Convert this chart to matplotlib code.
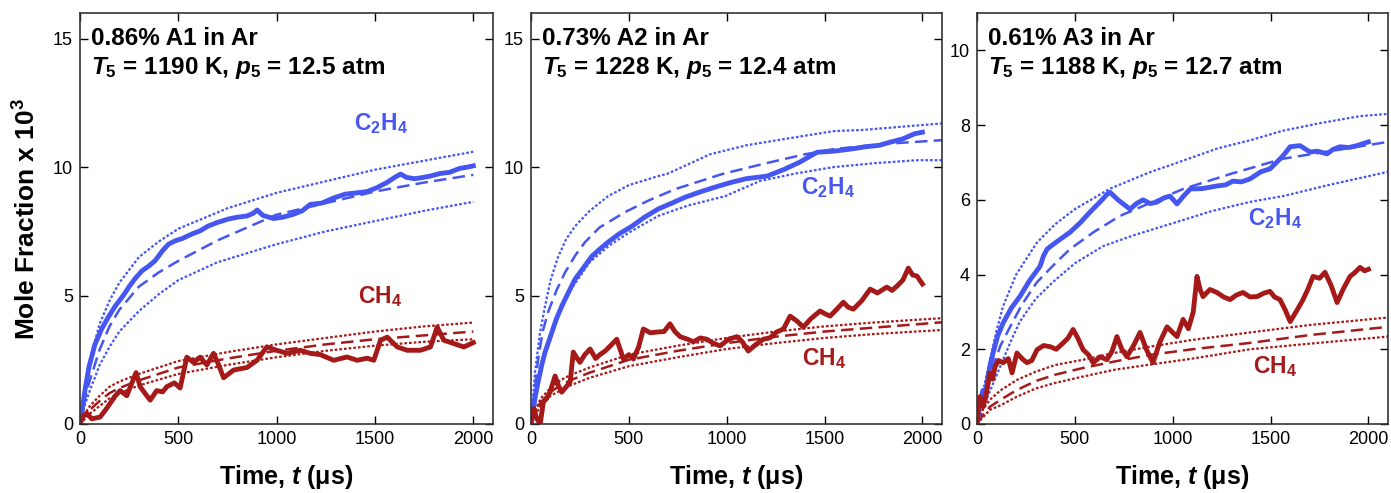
import matplotlib
matplotlib.use("Agg")
import matplotlib.pyplot as plt

plt.rcParams['font.family'] = ['Liberation Sans', 'DejaVu Sans']
plt.rcParams['mathtext.fontset'] = 'custom'
plt.rcParams['mathtext.rm'] = 'Liberation Sans:bold'
plt.rcParams['mathtext.it'] = 'Liberation Sans:italic:bold'
plt.rcParams['mathtext.bf'] = 'Liberation Sans:bold'

BLUE = '#4656f0'
RED = '#a51919'

# ---------------- panel 1: 0.86% A1 ----------------
p1_c2h4_t = [0, 10, 25, 45, 76, 110, 143, 180, 220, 250, 280, 316, 350, 382, 420, 450, 484, 520,
             570, 611, 650, 700, 755, 800, 850, 880, 901, 930, 983, 1030, 1080, 1130, 1171, 1230,
             1290, 1350, 1410, 1460, 1510, 1560, 1600, 1630, 1660, 1700, 1731, 1780, 1830, 1880,
             1930, 1970, 2000]
p1_c2h4_v = [0.0, 0.5, 1.3, 2.2, 3.1, 3.7, 4.15, 4.6, 5.0, 5.35, 5.66, 5.97, 6.15, 6.36, 6.75, 7.0,
             7.13, 7.22, 7.4, 7.52, 7.7, 7.85, 7.98, 8.05, 8.1, 8.2, 8.33, 8.12, 8.0, 8.05, 8.15,
             8.3, 8.55, 8.6, 8.8, 8.95, 9.0, 9.05, 9.2, 9.4, 9.6, 9.73, 9.6, 9.55, 9.58, 9.65, 9.75,
             9.8, 9.95, 10.0, 10.05]
p1_c2h4_hi_t = [0, 25, 50, 100, 150, 200, 300, 400, 500, 750, 1000, 1250, 1500, 1750, 2000]
p1_c2h4_hi_v = [0.0, 1.5, 2.5, 3.9, 4.8, 5.5, 6.5, 7.1, 7.6, 8.4, 9.0, 9.45, 9.9, 10.25, 10.6]
p1_c2h4_md_t = [0, 25, 50, 100, 150, 200, 300, 400, 500, 700, 1000, 1250, 1500, 1750, 2000]
p1_c2h4_md_v = [0.0, 1.0, 1.7, 2.9, 3.8, 4.45, 5.35, 5.9, 6.35, 7.15, 8.15, 8.6, 9.05, 9.4, 9.7]
p1_c2h4_lo_t = [0, 25, 50, 100, 150, 200, 300, 400, 500, 700, 1000, 1250, 1500, 1750, 2000]
p1_c2h4_lo_v = [0.0, 0.75, 1.3, 2.3, 3.0, 3.6, 4.4, 5.05, 5.6, 6.3, 7.0, 7.5, 7.9, 8.3, 8.65]

p1_ch4_t = [0, 15, 34, 60, 102, 130, 153, 180, 204, 238, 272, 285, 306, 330, 357, 390, 420, 441,
            480, 509, 543, 577, 611, 645, 679, 705, 730, 781, 849, 900, 950, 1000, 1053, 1120,
            1171, 1222, 1290, 1358, 1409, 1460, 1494, 1528, 1562, 1613, 1664, 1731, 1782, 1816,
            1850, 1901, 1952, 2000]
p1_ch4_v = [0.0, 0.3, 0.42, 0.2, 0.27, 0.55, 0.8, 1.1, 1.3, 1.1, 1.75, 2.0, 1.45, 1.2, 0.93, 1.3,
            1.25, 1.45, 1.6, 1.4, 2.6, 2.4, 2.6, 2.3, 2.75, 2.3, 1.8, 2.1, 2.2, 2.48, 3.0, 2.87,
            2.75, 2.87, 2.75, 2.7, 2.48, 2.61, 2.48, 2.56, 2.48, 3.26, 3.38, 3.0, 2.87, 2.87, 3.0,
            3.77, 3.26, 3.13, 3.0, 3.17]
p1_ch4_hi_t = [0, 25, 50, 100, 150, 200, 300, 500, 750, 1000, 1250, 1500, 1750, 2000]
p1_ch4_hi_v = [0.0, 0.4, 0.7, 1.1, 1.45, 1.65, 1.95, 2.45, 2.8, 3.1, 3.35, 3.6, 3.8, 3.95]
p1_ch4_md_t = [0, 25, 50, 100, 150, 200, 300, 500, 750, 1000, 1250, 1500, 1750, 2000]
p1_ch4_md_v = [0.0, 0.3, 0.55, 0.9, 1.2, 1.4, 1.7, 2.2, 2.55, 2.85, 3.1, 3.3, 3.45, 3.6]
p1_ch4_lo_t = [0, 25, 50, 100, 150, 200, 300, 500, 750, 1000, 1250, 1500, 1750, 2000]
p1_ch4_lo_v = [0.0, 0.2, 0.4, 0.7, 1.0, 1.2, 1.5, 1.95, 2.3, 2.6, 2.85, 3.05, 3.2, 3.3]

# ---------------- panel 2: 0.73% A2 ----------------
p2_c2h4_t = [0, 5, 20, 36, 55, 72, 90, 107, 130, 158, 190, 225, 270, 312, 350, 394, 450, 516, 580,
             650, 720, 788, 870, 957, 1030, 1100, 1206, 1290, 1375, 1420, 1462, 1545, 1630, 1717,
             1780, 1835, 1900, 1960, 2000]
p2_c2h4_v = [0.0, 0.2, 1.0, 1.63, 2.3, 2.8, 3.2, 3.58, 4.1, 4.6, 5.1, 5.64, 6.1, 6.54, 6.8, 7.08,
             7.4, 7.7, 8.05, 8.37, 8.6, 8.83, 9.05, 9.26, 9.42, 9.55, 9.65, 9.9, 10.2, 10.4, 10.58,
             10.62, 10.7, 10.8, 10.85, 10.97, 11.1, 11.3, 11.36]
p2_c2h4_hi_t = [0, 20, 45, 72, 100, 138, 180, 225, 300, 394, 500, 650, 700, 915, 1100, 1300, 1545,
                1700, 1937, 2100]
p2_c2h4_hi_v = [0.0, 2.0, 3.5, 4.6, 5.6, 6.5, 7.2, 7.7, 8.3, 8.87, 9.3, 9.65, 9.75, 10.5, 10.85,
                11.1, 11.4, 11.45, 11.6, 11.7]
p2_c2h4_md_t = [0, 36, 60, 87, 130, 174, 225, 276, 350, 481, 600, 736, 976, 1200, 1400, 1545, 1800,
                2100]
p2_c2h4_md_v = [0.0, 2.5, 3.6, 4.35, 5.2, 5.9, 6.55, 7.08, 7.65, 8.25, 8.7, 9.14, 9.73, 10.15,
                10.5, 10.7, 10.9, 11.05]
p2_c2h4_lo_t = [0, 20, 50, 100, 150, 200, 300, 400, 500, 650, 800, 992, 1170, 1350, 1545, 1750,
                1975, 2100]
p2_c2h4_lo_v = [0.0, 1.0, 2.1, 3.4, 4.4, 5.2, 6.3, 6.95, 7.45, 8.1, 8.5, 8.87, 9.46, 9.75, 10.0,
                10.15, 10.27, 10.27]

p2_ch4_t = [0, 5, 15, 30, 47, 63, 80, 97, 123, 140, 157, 180, 200, 216, 232, 250, 275, 302, 330,
            352, 380, 404, 438, 472, 500, 523, 550, 574, 610, 643, 680, 710, 735, 762, 800, 830,
            865, 898, 930, 966, 1010, 1052, 1080, 1110, 1150, 1187, 1220, 1255, 1290, 1324, 1360,
            1391, 1430, 1477, 1500, 1528, 1560, 1596, 1620, 1647, 1690, 1733, 1770, 1818, 1845,
            1870, 1900, 1928, 1950, 1972, 2000]
p2_ch4_v = [0.0, 0.47, 0.6, 0.2, 0.0, 0.85, 1.0, 1.24, 1.87, 1.5, 1.24, 1.45, 1.63, 2.8, 2.6, 2.4,
            2.7, 2.92, 2.55, 2.7, 2.85, 3.03, 3.3, 2.53, 2.7, 2.53, 3.0, 3.7, 3.55, 3.58, 3.6, 3.9,
            3.6, 3.4, 3.3, 3.2, 3.35, 3.3, 3.15, 3.04, 3.3, 3.4, 3.2, 2.84, 3.1, 3.3, 3.35, 3.58,
            3.7, 4.2, 4.0, 3.77, 4.1, 4.4, 4.3, 4.2, 4.45, 4.74, 4.55, 4.47, 4.8, 5.25, 5.1, 5.33,
            5.2, 5.37, 5.6, 6.07, 5.8, 5.76, 5.45]
p2_ch4_hi_t = [0, 25, 50, 100, 150, 200, 300, 500, 750, 1000, 1250, 1500, 1750, 2100]
p2_ch4_hi_v = [0.0, 0.6, 1.0, 1.4, 1.7, 1.9, 2.2, 2.7, 3.05, 3.35, 3.6, 3.8, 3.95, 4.12]
p2_ch4_md_t = [0, 25, 50, 100, 150, 200, 300, 500, 750, 1000, 1250, 1500, 1750, 2100]
p2_ch4_md_v = [0.0, 0.5, 0.85, 1.25, 1.5, 1.7, 2.0, 2.5, 2.85, 3.15, 3.4, 3.6, 3.75, 3.96]
p2_ch4_lo_t = [0, 25, 50, 100, 150, 200, 300, 500, 750, 1000, 1250, 1500, 1750, 2100]
p2_ch4_lo_v = [0.0, 0.4, 0.7, 1.1, 1.3, 1.5, 1.8, 2.25, 2.6, 2.92, 3.15, 3.35, 3.5, 3.66]

# ---------------- panel 3: 0.61% A3 ----------------
p3_c2h4_t = [0, 15, 31, 42, 51, 66, 82, 105, 133, 175, 220, 270, 322, 340, 358, 400, 440, 475, 530,
             577, 630, 665, 680, 720, 782, 815, 848, 885, 920, 955, 986, 1022, 1055, 1090, 1150,
             1226, 1270, 1308, 1350, 1395, 1450, 1497, 1530, 1564, 1600, 1650, 1702, 1740, 1788,
             1820, 1855, 1900, 1942, 1970, 2000]
p3_c2h4_v = [0.0, 0.6, 0.9, 0.65, 1.1, 1.55, 1.9, 2.35, 2.7, 3.1, 3.42, 3.85, 4.22, 4.5, 4.68, 4.85,
             5.0, 5.13, 5.4, 5.67, 5.95, 6.15, 6.2, 6.0, 5.75, 5.9, 6.0, 5.9, 5.94, 6.05, 6.1, 5.89,
             6.1, 6.29, 6.3, 6.37, 6.4, 6.5, 6.48, 6.56, 6.75, 6.83, 7.0, 7.18, 7.42, 7.45, 7.28,
             7.3, 7.23, 7.35, 7.42, 7.4, 7.45, 7.5, 7.55]
p3_c2h4_hi_t = [0, 20, 40, 66, 100, 133, 200, 307, 400, 500, 680, 884, 1000, 1226, 1400, 1564, 1750,
                1957, 2100]
p3_c2h4_hi_v = [0.0, 0.6, 1.1, 1.7, 2.5, 3.15, 4.0, 4.86, 5.35, 5.75, 6.3, 6.74, 6.95, 7.37, 7.6,
                7.85, 8.05, 8.24, 8.3]
p3_c2h4_md_t = [0, 30, 55, 82, 120, 169, 230, 307, 400, 475, 600, 731, 900, 1053, 1300, 1564, 1800,
                2100]
p3_c2h4_md_v = [0.0, 0.6, 1.1, 1.55, 2.1, 2.6, 3.2, 3.8, 4.3, 4.68, 5.15, 5.57, 5.95, 6.29, 6.7,
                7.1, 7.3, 7.55]
p3_c2h4_lo_t = [0, 30, 60, 100, 133, 180, 220, 300, 388, 500, 644, 800, 986, 1200, 1400, 1564, 1800,
                2100]
p3_c2h4_lo_v = [0.0, 0.4, 0.8, 1.3, 1.72, 2.3, 2.75, 3.35, 3.8, 4.3, 4.76, 5.05, 5.35, 5.7, 5.95,
                6.1, 6.4, 6.75]

p3_ch4_t = [0, 8, 15, 31, 48, 66, 80, 92, 110, 133, 160, 179, 204, 230, 255, 280, 307, 340, 373, 405,
            440, 465, 491, 515, 542, 570, 593, 630, 664, 690, 715, 740, 766, 800, 833, 865, 899, 935,
            971, 1000, 1022, 1053, 1080, 1105, 1124, 1140, 1155, 1190, 1226, 1260, 1293, 1325, 1359,
            1395, 1431, 1465, 1497, 1520, 1548, 1575, 1600, 1630, 1666, 1690, 1717, 1750, 1778,
            1810, 1840, 1870, 1906, 1930, 1957, 1980, 2000]
p3_ch4_v = [0.0, 0.5, 0.73, 0.46, 0.82, 1.37, 1.2, 1.53, 1.7, 1.64, 1.75, 1.37, 1.9, 1.75, 1.64, 1.7,
            1.99, 2.1, 2.07, 2.0, 2.17, 2.3, 2.53, 2.3, 1.99, 1.85, 1.64, 1.8, 1.72, 1.95, 2.34, 2.0,
            1.8, 2.1, 2.45, 2.0, 1.64, 2.2, 2.6, 2.45, 2.34, 2.8, 2.55, 3.0, 3.95, 3.6, 3.41, 3.6,
            3.52, 3.4, 3.33, 3.45, 3.52, 3.4, 3.41, 3.5, 3.55, 3.4, 3.33, 3.05, 2.74, 3.0, 3.33,
            3.6, 3.95, 3.9, 4.06, 3.7, 3.25, 3.6, 3.95, 4.05, 4.19, 4.1, 4.14]
p3_ch4_hi_t = [0, 25, 66, 120, 204, 300, 400, 542, 700, 884, 1100, 1395, 1700, 2100]
p3_ch4_hi_v = [0.0, 0.35, 0.65, 0.9, 1.18, 1.4, 1.58, 1.72, 1.9, 2.07, 2.25, 2.45, 2.65, 2.85]
p3_ch4_md_t = [0, 25, 66, 120, 204, 300, 400, 542, 700, 884, 1100, 1395, 1700, 2100]
p3_ch4_md_v = [0.0, 0.2, 0.46, 0.65, 0.91, 1.15, 1.32, 1.5, 1.67, 1.85, 2.0, 2.17, 2.38, 2.6]
p3_ch4_lo_t = [0, 25, 66, 120, 204, 300, 400, 542, 700, 884, 1100, 1395, 1700, 2100]
p3_ch4_lo_v = [0.0, 0.15, 0.38, 0.5, 0.73, 0.95, 1.1, 1.27, 1.45, 1.59, 1.75, 2.0, 2.15, 2.34]

titles = ['0.86% A1 in Ar', '0.73% A2 in Ar', '0.61% A3 in Ar']
conds = ['$T_5$ = 1190 K, $p_5$ = 12.5 atm',
         '$T_5$ = 1228 K, $p_5$ = 12.4 atm',
         '$T_5$ = 1188 K, $p_5$ = 12.7 atm']
ymaxes = [16, 16, 11]
ysteps = [5, 5, 2]
c2h4_lbl_pos = [(1530, 11.7), (1518, 9.2), (1523, 5.5)]
ch4_lbl_pos = [(1528, 4.95), (1497, 2.55), (1523, 1.55)]

panels = [
    (p1_c2h4_t, p1_c2h4_v, p1_c2h4_hi_t, p1_c2h4_hi_v, p1_c2h4_md_t, p1_c2h4_md_v, p1_c2h4_lo_t, p1_c2h4_lo_v,
     p1_ch4_t, p1_ch4_v, p1_ch4_hi_t, p1_ch4_hi_v, p1_ch4_md_t, p1_ch4_md_v, p1_ch4_lo_t, p1_ch4_lo_v),
    (p2_c2h4_t, p2_c2h4_v, p2_c2h4_hi_t, p2_c2h4_hi_v, p2_c2h4_md_t, p2_c2h4_md_v, p2_c2h4_lo_t, p2_c2h4_lo_v,
     p2_ch4_t, p2_ch4_v, p2_ch4_hi_t, p2_ch4_hi_v, p2_ch4_md_t, p2_ch4_md_v, p2_ch4_lo_t, p2_ch4_lo_v),
    (p3_c2h4_t, p3_c2h4_v, p3_c2h4_hi_t, p3_c2h4_hi_v, p3_c2h4_md_t, p3_c2h4_md_v, p3_c2h4_lo_t, p3_c2h4_lo_v,
     p3_ch4_t, p3_ch4_v, p3_ch4_hi_t, p3_ch4_hi_v, p3_ch4_md_t, p3_ch4_md_v, p3_ch4_lo_t, p3_ch4_lo_v),
]

fig = plt.figure(figsize=(13.91, 4.93), dpi=100)
lefts = [80, 531, 977]
widths = [413, 411, 411]
dot = (0, (1.2, 0.9))
dash = (0, (5, 2.5))

for i, d in enumerate(panels):
    ax = fig.add_axes([lefts[i] / 1391, 69 / 493, widths[i] / 1391, 411 / 493])
    (ct, cv, cht, chv, cmt, cmv, clt, clv, mt, mv, mht, mhv, mmt, mmv, mlt, mlv) = d
    # models
    ax.plot(cht, chv, color=BLUE, lw=1.6, ls=dot)
    ax.plot(cmt, cmv, color=BLUE, lw=1.8, ls=dash)
    ax.plot(clt, clv, color=BLUE, lw=1.6, ls=dot)
    ax.plot(mht, mhv, color=RED, lw=1.6, ls=dot)
    ax.plot(mmt, mmv, color=RED, lw=1.8, ls=dash)
    ax.plot(mlt, mlv, color=RED, lw=1.6, ls=dot)
    # experiments
    ax.plot(ct, cv, color=BLUE, lw=3.5, solid_joinstyle='round')
    ax.plot(mt, mv, color=RED, lw=3.5, solid_joinstyle='round')

    ax.set_xlim(0, 2100)
    ax.set_ylim(0, ymaxes[i])
    ax.set_xticks([0, 500, 1000, 1500, 2000])
    ax.set_yticks(list(range(0, ymaxes[i], ysteps[i])))
    ax.tick_params(direction='in', top=True, right=True, length=6, width=1, labelsize=13, pad=5)
    for s in ax.spines.values():
        s.set_linewidth(1.2)
        s.set_color('#333333')

    ax.text(0.027, 0.922, titles[i], transform=ax.transAxes, fontsize=17.5, fontweight='bold',
            va='baseline', ha='left')
    ax.text(0.027, 0.852, conds[i], transform=ax.transAxes, fontsize=17.5, fontweight='bold',
            va='baseline', ha='left')
    ax.text(*c2h4_lbl_pos[i], 'C$_2$H$_4$', color=BLUE, fontsize=16.5, fontweight='bold',
            ha='center', va='center')
    ax.text(*ch4_lbl_pos[i], 'CH$_4$', color=RED, fontsize=16.5, fontweight='bold',
            ha='center', va='center')
    ax.set_xlabel('Time, $t$ (μs)', fontsize=18, fontweight='bold', labelpad=11)
    if i == 0:
        ax.set_ylabel('Mole Fraction x 10$^3$', fontsize=19, fontweight='bold', labelpad=9)

plt.savefig('out.png', dpi=100)
